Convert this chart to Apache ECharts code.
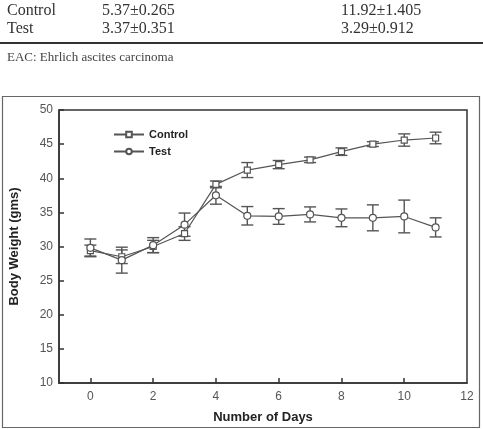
<!DOCTYPE html>
<html>
<head>
<meta charset="utf-8">
<script src="https://cdn.jsdelivr.net/npm/echarts@6/dist/echarts.min.js"></script>
<style>
  html, body { margin: 0; padding: 0; background: #fff; }
  #chart { width: 483px; height: 429px; }
</style>
</head>
<body>
<div id="chart"></div>
<script>
  // values
  var days = [0, 1, 2, 3, 4, 5, 6, 7, 8, 9, 10, 11];
  var controlMean = [29.4, 28.5, 30.0, 31.9, 39.1, 41.2, 42.0, 42.7, 43.9, 45.0, 45.6, 45.9];
  var controlErr = [0.8, 1.0, 0.9, 1.0, 0.5, 1.1, 0.6, 0.4, 0.55, 0.35, 0.9, 0.85];
  var testMean = [29.8, 28.0, 30.2, 33.2, 37.5, 34.5, 34.4, 34.7, 34.2, 34.2, 34.4, 32.8];
  var testErr = [1.3, 1.9, 1.1, 1.7, 1.3, 1.35, 1.15, 1.1, 1.3, 1.9, 2.4, 1.4];
  var xTicks = [0, 2, 4, 6, 8, 10, 12];

  var tableRows = [
    ['Control', '5.37±0.265', '11.92±1.405'],
    ['Test', '3.37±0.351', '3.29±0.912']
  ];

  var lineColor = '#555';

  function errBars(params, api) {
    var x = api.value(0), y = api.value(1), e = api.value(2);
    var hi = api.coord([x, y + e]);
    var lo = api.coord([x, y - e]);
    var w = 6;
    var st = { stroke: lineColor, lineWidth: 1.4 };
    return {
      type: 'group',
      children: [
        { type: 'line', shape: { x1: hi[0], y1: hi[1], x2: lo[0], y2: lo[1] }, style: st },
        { type: 'line', shape: { x1: hi[0] - w, y1: hi[1], x2: hi[0] + w, y2: hi[1] }, style: st },
        { type: 'line', shape: { x1: lo[0] - w, y1: lo[1], x2: lo[0] + w, y2: lo[1] }, style: st }
      ]
    };
  }

  var tableText = [];
  tableRows.forEach(function (row, i) {
    var y = 3 + i * 18;
    [7, 102, 341].forEach(function (x, j) {
      tableText.push({
        type: 'text', left: x, top: y,
        style: { text: row[j], font: '16px "Liberation Serif", serif', fill: '#333' }
      });
    });
  });

  var chart = echarts.init(document.getElementById('chart'));
  chart.setOption({
    animation: false,
    backgroundColor: '#fff',
    graphic: tableText.concat([
      { type: 'rect', shape: { x: 0, y: 42, width: 483, height: 2 }, style: { fill: '#333' } },
      {
        type: 'text', left: 7, top: 51,
        style: { text: 'EAC: Ehrlich ascites carcinoma', font: '13px "Liberation Serif", serif', fill: '#444' }
      },
      {
        type: 'rect', shape: { x: 2.5, y: 96.5, width: 477, height: 331 },
        style: { fill: 'none', stroke: '#666', lineWidth: 1.2 }, z: -1
      }
    ]),
    legend: {
      data: ['Control', 'Test'],
      orient: 'vertical',
      left: 108, top: 124,
      itemWidth: 30, itemHeight: 7, itemGap: 6,
      textStyle: { fontFamily: '"Liberation Sans", Arial', fontWeight: 'bold', fontSize: 11, color: '#222' }
    },
    grid: {
      left: 58, right: 16, top: 110, bottom: 46,
      show: true, borderColor: '#333', borderWidth: 1.5
    },
    xAxis: {
      type: 'value', min: -1, max: 12,
      name: 'Number of Days', nameLocation: 'middle', nameGap: 28,
      nameTextStyle: { fontFamily: '"Liberation Sans", Arial', fontWeight: 'bold', fontSize: 13, color: '#222' },
      axisLine: { onZero: false, lineStyle: { color: '#333', width: 1.5 } },
      axisTick: { inside: true, length: 5, customValues: xTicks.slice(0, -1), lineStyle: { color: '#333', width: 1.5 } },
      axisLabel: { customValues: xTicks, margin: 8, fontFamily: '"Liberation Sans", Arial', fontSize: 12, color: '#555' },
      splitLine: { show: false }
    },
    yAxis: {
      type: 'value', min: 10, max: 50, interval: 5,
      name: 'Body Weight (gms)', nameLocation: 'middle', nameGap: 38,
      nameTextStyle: { fontFamily: '"Liberation Sans", Arial', fontWeight: 'bold', fontSize: 13, color: '#222' },
      axisLine: { show: true, onZero: false, lineStyle: { color: '#333', width: 1.5 } },
      axisTick: { inside: true, length: 5, lineStyle: { color: '#333', width: 1.5 } },
      axisLabel: { margin: 6, fontFamily: '"Liberation Sans", Arial', fontSize: 12, color: '#555' },
      splitLine: { show: false }
    },
    series: [
      {
        type: 'custom', renderItem: errBars, z: 1,
        data: days.map(function (d, i) { return [d, controlMean[i], controlErr[i]]; })
      },
      {
        type: 'custom', renderItem: errBars, z: 1,
        data: days.map(function (d, i) { return [d, testMean[i], testErr[i]]; })
      },
      {
        name: 'Control', type: 'line', z: 3,
        symbol: 'rect', symbolSize: 6, showAllSymbol: true,
        lineStyle: { color: lineColor, width: 1.2 },
        itemStyle: { color: '#fff', borderColor: lineColor, borderWidth: 1.2 },
        data: days.map(function (d, i) { return [d, controlMean[i]]; })
      },
      {
        name: 'Test', type: 'line', z: 3,
        symbol: 'circle', symbolSize: 7, showAllSymbol: true,
        lineStyle: { color: lineColor, width: 1.2 },
        itemStyle: { color: '#fff', borderColor: lineColor, borderWidth: 1.2 },
        data: days.map(function (d, i) { return [d, testMean[i]]; })
      }
    ]
  });
</script>
</body>
</html>
